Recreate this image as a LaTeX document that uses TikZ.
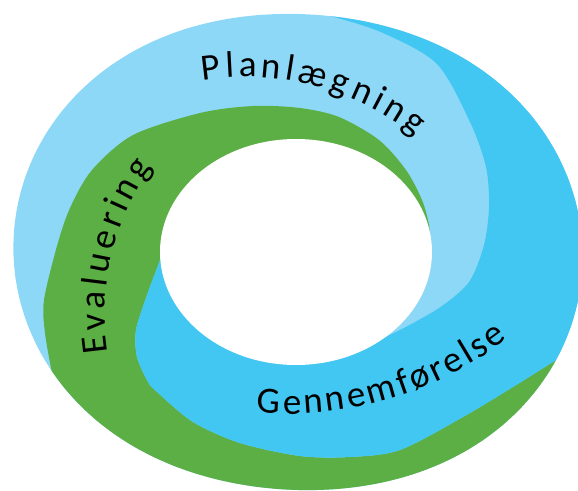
\documentclass[tikz,border=0pt]{standalone}
\usepackage{fontspec}
\newfontfamily\ringfont{Carlito}
\newcommand{\phasefont}{\ringfont\fontsize{37}{42}\selectfont}
\definecolor{planblue}{RGB}{142,216,247}
\definecolor{gennemblue}{RGB}{65,199,242}
\definecolor{evalgreen}{RGB}{92,175,68}
\tikzset{
  letter/.style={anchor=base,inner sep=0pt,font=\phasefont}
}
% word set letter by letter on a circle: name, cx, cy, r, start angle, end angle, letters
\newcommand{\arcword}[7]{%
  \phasefont
  \pgfmathsetmacro\wsign{sign(#6-#5)}%
  \pgfmathsetmacro\wlen{abs(#6-#5)*pi/180*#4}%
  \gdef\wsum{0}%
  \foreach \ch [count=\n] in {#7} {%
    \pgfmathsetmacro\tmp{\wsum+width("\ch")}\xdef\wsum{\tmp}\xdef\wcount{\n}}%
  \pgfmathsetmacro\wtrack{(\wlen-\wsum)/(\wcount-1)}%
  \gdef\wacc{0}%
  \foreach \ch [count=\n] in {#7} {%
    \pgfmathsetmacro\cw{width("\ch")}%
    \pgfmathsetmacro\ang{#5+\wsign*(\wacc+\cw/2)/#4*180/pi}%
    \pgfmathsetmacro\tmp{\wacc+\cw+\wtrack}\xdef\wacc{\tmp}%
    \node[letter,rotate={-(\ang)-(\wsign)*90}] (#1\n) at ({#2+#4*cos(\ang)},{#3+#4*sin(\ang)}) {\ch};}%
}

\begin{document}
\begin{tikzpicture}[x=1pt,y=-1pt]
        \useasboundingbox (0,0) rectangle (578,490);
        \begin{scope}
        \clip plot[smooth cycle,domain=0:355,samples=72] ({298+(261.3+23.3*cos(2*\x)+2.9*sin(2*\x))*cos(\x)},{252+(261.3+23.3*cos(2*\x)+2.9*sin(2*\x))*sin(\x)});
        \fill[planblue] (-10,-10) rectangle (620,520);
        % Evaluering band
        \fill[evalgreen] plot[smooth] coordinates {(62,405) (53,377) (45,333) (44,300) (57,246) (70,208) (92,170) (133,135) (200,113) (253,106) (300,108) (339,117) (379,140) (406,170) (422,200) (429,225) (430,245)}
          -- plot[smooth] coordinates {(168,235) (160,260) (147,295) (136,330) (137,357) (148,382) (157,392) (193,422) (240,443) (300,456) (350,457) (400,450) (463,417) (513,387) (553,362) (585,343)}
          -- (620,330) -- (620,520) -- (-20,520) -- (-20,420) -- cycle;
        % Gennemfoerelse band
        \fill[gennemblue] plot[smooth] coordinates {(290,9) (330,16) (383,33) (437,64) (470,122) (486,167) (489,207) (484,245) (469,282) (439,308) (396,332) (370,343)}
          -- plot[smooth] coordinates {(168,235) (160,260) (147,295) (136,330) (137,357) (148,382) (157,392) (193,422) (240,443) (300,456) (350,457) (400,450) (463,417) (513,387) (553,362) (585,343)}
          -- (620,330) -- (620,-20) -- (290,-20) -- cycle;
        \end{scope}
        \fill[white] (296,252) ellipse [x radius=136, y radius=113];
        % labels
        \arcword{plan}{245}{354}{277}{261.25}{308.1}{P,l,a,n,l,æ,g,n,i,n,g}
        \arcword{eval}{357}{314}{252}{171.3}{215.6}{E,v,a,l,u,e,r,i,n,g}
        \arcword{gen}{287}{54}{360}{94.8}{52.2}{G,e,n,n,e,m,f,ø,r,e,l,s,e}
\end{tikzpicture}
\end{document}
